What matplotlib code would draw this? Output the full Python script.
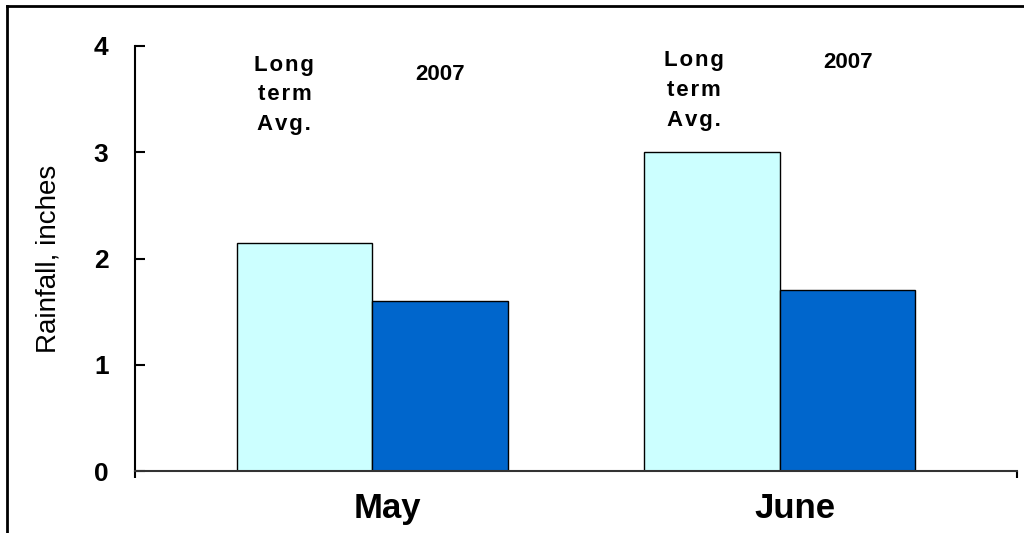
import numpy as np
import matplotlib
matplotlib.use('Agg')
import matplotlib.pyplot as plt
import matplotlib.transforms as mtransforms
from matplotlib.lines import Line2D

plt.rcParams['font.family'] = ['Liberation Sans', 'DejaVu Sans']

# Rainfall data (inches)
months = ['May', 'June']
long_term_avg = [2.15, 3.0]
rain_2007 = [1.6, 1.7]
series_names = ['Long term Avg.', '2007']
yticks = [0, 1, 2, 3, 4]

light_cyan = '#CCFFFF'
blue = '#0066CC'


def spaced(label):
    # one word per line, letters pulled slightly apart
    return '\n'.join('\u200a'.join(word) for word in label.split())


fig = plt.figure(figsize=(10.24, 5.33), dpi=100)
ax = fig.add_axes([0.1318, 0.1163, 0.8614, 0.7974])

x = np.arange(len(months))
w = 0.3325
ax.bar(x - w / 2, long_term_avg, w, color=light_cyan, edgecolor='black', linewidth=1.0)
ax.bar(x + w / 2, rain_2007, w, color=blue, edgecolor='black', linewidth=1.0)

xmin, xmax = -0.583, 1.582
ax.set_xlim(xmin, xmax)
ax.set_ylim(0, 4)

# y axis: ticks pointing into the plot
ax.set_yticks(yticks)
ax.set_yticklabels([str(v) for v in yticks], fontsize=19, fontweight='bold')
ax.tick_params(axis='y', direction='in', length=7, width=1.5, pad=19)

# x axis: month names, small outward ticks at the two ends only
ax.set_xticks(x)
ax.set_xticklabels(months, fontsize=25, fontweight='bold')
ax.tick_params(axis='x', which='major', length=0, pad=15)
offset = mtransforms.ScaledTranslation(15 / 100, 0, fig.dpi_scale_trans)
for lbl in ax.get_xticklabels():
    lbl.set_transform(lbl.get_transform() + offset)
ax.set_xticks([xmin, xmax], minor=True)
ax.tick_params(axis='x', which='minor', direction='out', length=5, width=1.5)

for side in ['top', 'right']:
    ax.spines[side].set_visible(False)
ax.spines['left'].set_linewidth(1.5)
ax.spines['bottom'].set_linewidth(1.5)
ax.spines['bottom'].set_color('#333333')

ax.set_ylabel('Rainfall, inches', fontsize=20, labelpad=23)

# series labels written above each bar
label_pos = [
    (x[0] - w / 2 - 0.05, 3.54, spaced(series_names[0])),
    (x[0] + w / 2, 3.73, series_names[1]),
    (x[1] - w / 2 - 0.045, 3.58, spaced(series_names[0])),
    (x[1] + w / 2, 3.84, series_names[1]),
]
for lx, ly, txt in label_pos:
    ax.text(lx, ly, txt, ha='center', va='center', fontsize=16,
            fontweight='bold', linespacing=1.55)

# outer frame, left and top edges
fig.add_artist(Line2D([0.0068, 0.0068], [0, 0.989], transform=fig.transFigure,
                      color='black', linewidth=2))
fig.add_artist(Line2D([0.0068, 1.0], [0.989, 0.989], transform=fig.transFigure,
                      color='black', linewidth=2))

fig.savefig('out.png', dpi=100, facecolor='white')
